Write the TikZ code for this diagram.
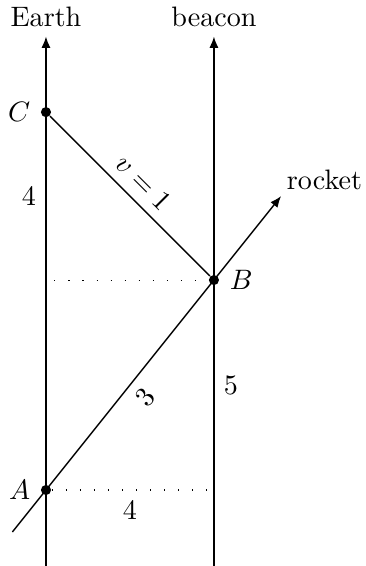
\documentclass[tikz,border=0pt]{standalone}
\usepackage{amsmath}
\usepackage{tikz}
\usetikzlibrary{positioning,arrows.meta}

\begin{document}
\begin{tikzpicture}[>={Latex[length=4pt,width=3.2pt]}, x=0.525cm, y=0.525cm,
    line width=0.5pt,
    event/.style={circle, fill, inner sep=0pt, minimum size=3.6pt},
    guide/.style={line width=0.4pt, dash pattern=on 0.4pt off 4.6pt}]
  \useasboundingbox (-1.095,-1.81) rectangle (7.62,11.67);
  \def\ybot{-1.8}
  \def\ytop{10.8}

  \coordinate (earthbot) at (0,\ybot);
  \coordinate (earthtop) at (0,\ytop);
  \coordinate (beaconbot) at (4,\ybot);
  \coordinate (beacontop) at (4,\ytop);
  \coordinate (rocketbot) at (-0.8,-1);
  \coordinate (rockettop) at (5.6,7);
  \coordinate (levelB) at (0.2,5);
  \coordinate (levelA) at (4,0);

  \draw[->] (earthbot) -- (earthtop);
  \draw[->] (beaconbot) -- (beacontop);
  \draw[->] (rocketbot) -- (rockettop);

  \node[above=0pt of earthtop] (earthlbl) {Earth};
  \node[above=0pt of beacontop] (beaconlbl) {beacon};
  \node[above right=-1.5pt and -1.5pt of rockettop] (rocketlbl) {rocket};

  \node[event] (A) at (0,0) {};
  \node[event] (B) at (4,5) {};
  \node[event] (C) at (0,9) {};
  \node[left=0pt of A] (Albl) {$A$};
  \node[right=0pt of B] (Blbl) {$B$};
  \node[left=0pt of C] (Clbl) {$C$};

  \draw[guide] (levelB) -- (B);
  \draw[guide] (A) -- (levelA);

  \draw (C) -- (B) node[midway, sloped, above] (signal) {$v=1$};
  \path (A) -- (B) node[midway, sloped, below] (proper) {$3$};

  \node[left] (gapCB) at (0,7) {4};
  \node[right] (gapAB) at (4,2.5) {5};
  \node[below] (gapx) at (2,0) {4};
\end{tikzpicture}
\end{document}
